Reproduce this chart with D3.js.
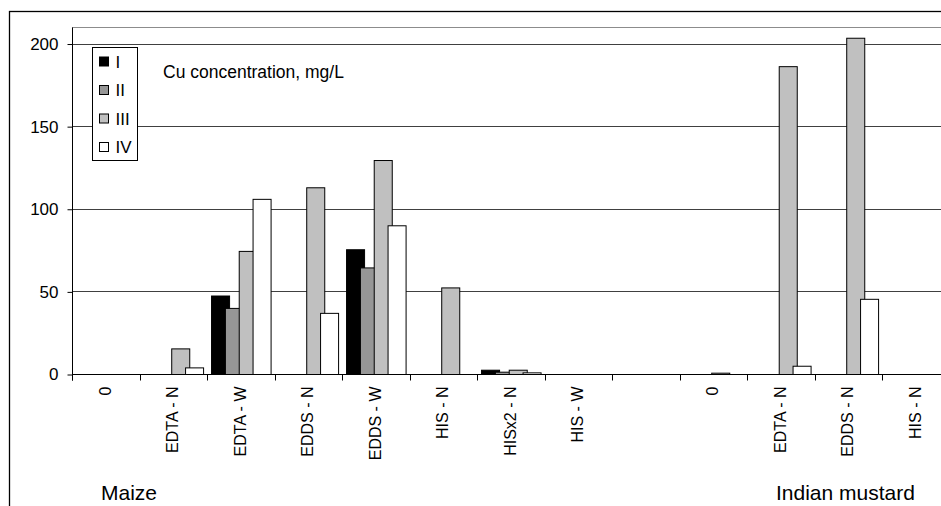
<!DOCTYPE html>
<meta charset="utf-8">
<style>
  body { margin: 0; background: #fff; }
  svg { font-family: 'Liberation Sans', Arial, sans-serif; }
  .grid line { stroke: #404040; stroke-width: 1; }
  .bar { stroke: #000; stroke-width: 1; }
</style>
<body>
<script src="https://d3js.org/d3.v7.min.js"></script>
<script>

var width = 941,
    height = 506;

// categories along the x axis (blank slot separates the two plants)
var categories = ["0", "EDTA - N", "EDTA - W", "EDDS - N", "EDDS - W", "HIS - N", "HISx2 - N", "HIS - W",
                  "", "0", "EDTA - N", "EDDS - N", "HIS - N"];
var series = ["I", "II", "III", "IV"];
var colors = ["#000000", "#969696", "#c0c0c0", "#ffffff"];

// Cu concentration, mg/L
var valsI   = [0, 0, 47.5, 0, 75.5, 0, 2.6, 0, 0, 0, 0, 0, 0];
var valsII  = [0, 0, 40, 0, 64.5, 0, 1.4, 0, 0, 0, 0, 0, 0];
var valsIII = [0, 15.5, 74.5, 113, 129.5, 52.4, 2.6, 0, 0, 0.8, 186.3, 203.5, 0];
var valsIV  = [0, 4, 106, 37, 90, 0, 1, 0, 0, 0, 5, 45.5, 0];

var yTicks = [0, 50, 100, 150, 200];
var groups = [{name: "Maize", x: 101}, {name: "Indian mustard", x: 776}];

var allVals = [valsI, valsII, valsIII, valsIV];

var plot = {left: 72, top: 27, bottom: 374};

var x = d3.scaleBand()
    .domain(d3.range(categories.length))
    .range([plot.left, plot.left + 67.5 * categories.length]);

var bw = x.bandwidth();
var xs = d3.scalePoint()
    .domain(series)
    .range([bw * 0.06, bw * 0.06 + bw * 0.615]);
var barW = bw * 0.267;

var y = d3.scaleLinear()
    .domain([0, 210])
    .range([plot.bottom, plot.top]);

var svg = d3.select("body").append("svg")
    .attr("width", width)
    .attr("height", height);

// outer chart frame
svg.append("rect")
    .attr("x", 9.5).attr("y", 11.5)
    .attr("width", 1000).attr("height", 600)
    .attr("fill", "none").attr("stroke", "#000").attr("stroke-width", 1.3);

// plot area top border
svg.append("line")
    .attr("x1", plot.left).attr("x2", x.range()[1])
    .attr("y1", plot.top + 0.5).attr("y2", plot.top + 0.5)
    .attr("stroke", "#8c8c8c");

// gridlines
svg.append("g").attr("class", "grid")
  .selectAll("line").data(yTicks.filter(d => d > 0))
  .enter().append("line")
    .attr("x1", plot.left).attr("x2", x.range()[1])
    .attr("y1", d => Math.round(y(d)) + 0.5)
    .attr("y2", d => Math.round(y(d)) + 0.5);

// bars
allVals.forEach(function(vals, si) {
  svg.append("g")
    .selectAll("rect").data(vals.map((v, i) => ({i: i, v: v})).filter(d => d.v > 0))
    .enter().append("rect")
      .attr("class", "bar")
      .attr("fill", colors[si])
      .attr("x", d => x(d.i) + xs(series[si]) + 0.5)
      .attr("width", barW)
      .attr("y", d => y(d.v) + 0.5)
      .attr("height", d => Math.max(y(0) - y(d.v), 0.5));
});

// y axis
var yAxis = d3.axisLeft(y).tickValues(yTicks).tickSize(5).tickPadding(9);
var gy = svg.append("g")
    .attr("transform", "translate(" + (plot.left + 0.5) + ",0.5)")
    .call(yAxis);
gy.select(".domain").attr("d", "M0," + (plot.top) + "V" + (plot.bottom + 6)).attr("stroke", "#000");
gy.selectAll("text").style("font-size", "17px").attr("fill", "#000");

// x axis with ticks on category boundaries
var gx = svg.append("g")
    .attr("transform", "translate(0," + (plot.bottom + 0.5) + ")");
gx.append("line")
    .attr("x1", plot.left).attr("x2", x.range()[1])
    .attr("stroke", "#000");
gx.selectAll(".tk").data(d3.range(categories.length + 1))
  .enter().append("line")
    .attr("class", "tk")
    .attr("x1", i => Math.round(plot.left + i * bw) + 0.5)
    .attr("x2", i => Math.round(plot.left + i * bw) + 0.5)
    .attr("y1", 0).attr("y2", 6)
    .attr("stroke", "#000");
gx.selectAll("text").data(categories)
  .enter().append("text")
    .attr("transform", (d, i) => "translate(" + (x(i) + bw / 2 + 5) + ",12) rotate(-90)")
    .attr("text-anchor", "end")
    .style("font-size", "16px")
    .text(d => d);

// group names
svg.selectAll(".group").data(groups)
  .enter().append("text")
    .attr("class", "group")
    .attr("x", d => d.x)
    .attr("y", 500)
    .style("font-size", "21px")
    .text(d => d.name);

// chart title inside plot
svg.append("text")
    .attr("x", 163).attr("y", 78)
    .style("font-size", "17.5px")
    .text("Cu concentration, mg/L");

// legend
var lg = svg.append("g").attr("transform", "translate(92.5,47.5)");
lg.append("rect")
    .attr("width", 45).attr("height", 113)
    .attr("fill", "#fff").attr("stroke", "#000");
var item = lg.selectAll(".item").data(series)
  .enter().append("g")
    .attr("class", "item")
    .attr("transform", (d, i) => "translate(0," + (14 + i * 28.5) + ")");
item.append("rect")
    .attr("x", 7).attr("y", -4.5)
    .attr("width", 9).attr("height", 9)
    .attr("fill", (d, i) => colors[i])
    .attr("stroke", "#000");
item.append("text")
    .attr("x", 23).attr("y", 6)
    .style("font-size", "17px")
    .text(d => d);

</script>
</body>
